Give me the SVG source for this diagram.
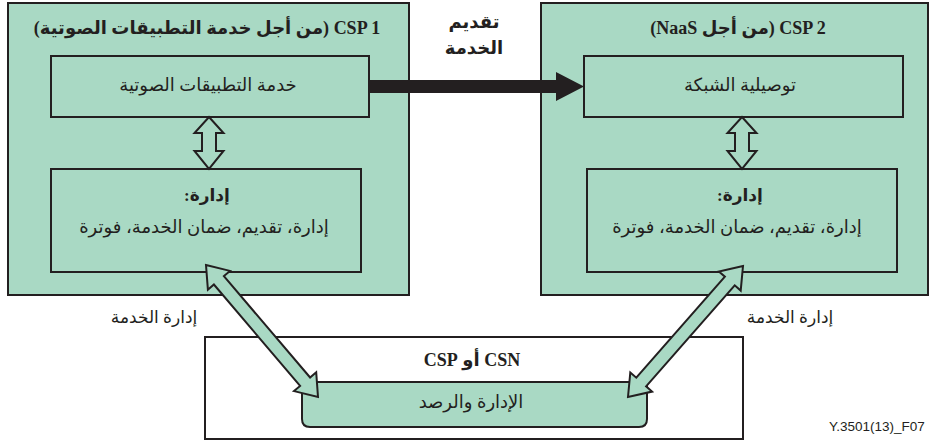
<svg xmlns="http://www.w3.org/2000/svg" width="932" height="446" viewBox="0 0 932 446">
<style>
.box{fill:#a9d9c4;stroke:#231f20;stroke-width:2}
.wbox{fill:#ffffff;stroke:#231f20;stroke-width:2}
.arr{fill:#a9d9c4;stroke:#231f20;stroke-width:2;stroke-linejoin:miter}
.t{font-family:"Liberation Serif","DejaVu Sans",serif;font-size:18px;fill:#231f20;text-anchor:middle;direction:rtl}
.b{font-weight:bold;font-size:18px}
.m{font-size:17px}
.lab{font-family:"Liberation Sans",sans-serif;font-size:13.5px;fill:#231f20}
</style>
<rect width="932" height="446" fill="#ffffff"/>
<g id="csp1">
<rect class="box" x="8" y="3" width="401" height="292"/>
<text class="t b" x="207" y="34">CSP 1 (من أجل خدمة التطبيقات الصوتية)</text>
</g>
<g id="csp2">
<rect class="box" x="541" y="3" width="387" height="292"/>
<text class="t b" x="738" y="34">CSP 2 (من أجل NaaS)</text>
</g>
<g id="voice">
<rect class="box" x="51" y="56" width="318" height="61"/>
<text class="t" x="208" y="91">خدمة التطبيقات الصوتية</text>
</g>
<g id="mgmt1">
<rect class="box" x="51" y="169" width="310" height="103"/>
<text class="t b m" x="207" y="201">إدارة:</text>
<text class="t" x="204" y="233">إدارة، تقديم، ضمان الخدمة، فوترة</text>
</g>
<g id="conn">
<rect class="box" x="584" y="56" width="319" height="61"/>
<text class="t" x="740" y="91">توصيلية الشبكة</text>
</g>
<g id="mgmt2">
<rect class="box" x="587" y="169" width="310" height="103"/>
<text class="t b m" x="740" y="201">إدارة:</text>
<text class="t" x="737" y="233">إدارة، تقديم، ضمان الخدمة، فوترة</text>
</g>
<g id="csn">
<rect class="wbox" x="205" y="337" width="538" height="102"/>
<text class="t b" x="472" y="366">CSN أو CSP</text>
</g>
<g id="monitor">
<path class="box" d="M302,382 H647 V419 Q647,427 639,427 H310 Q302,427 302,419 Z"/>
<text class="t" x="471" y="408">الإدارة والرصد</text>
</g>
<g id="connectors">
<polygon class="arr" points="209,117 223.5,133 216,133 216,151 223.5,151 209,169 194.5,151 202,151 202,133 194.5,133"/>
<polygon class="arr" points="742,117 756.5,133 749,133 749,151 756.5,151 742,169 727.5,151 735,151 735,133 727.5,133"/>
<polygon fill="#231f20" points="369,80 556,80 556,72 584,86.5 556,101 556,93 369,93"/>
<polygon class="arr" points="206,265 230,270.9 223.9,276.1 310.1,377.5 316.2,372.3 318,397 294,391.1 300.1,385.9 213.9,284.5 207.9,289.7"/>
<polygon class="arr" points="743,266 718.9,271.5 724.9,276.7 636.3,377.7 630.3,372.5 628,397 652.1,391.6 646.1,386.3 734.7,285.3 740.7,290.6"/>
<text class="t b" x="474" y="28">تقديم</text>
<text class="t b" x="474" y="54">الخدمة</text>
<text class="t m" x="154" y="323">إدارة الخدمة</text>
<text class="t m" x="790" y="323">إدارة الخدمة</text>
</g>
<text class="lab" x="829" y="431">Y.3501(13)_F07</text>
</svg>
